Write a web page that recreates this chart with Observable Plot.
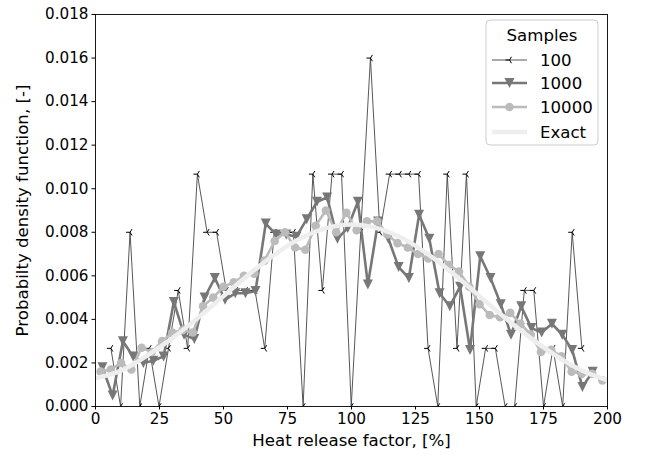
<!DOCTYPE html>
<html><head><meta charset="utf-8">
<script src="https://cdn.jsdelivr.net/npm/d3@7"></script>
<script src="https://cdn.jsdelivr.net/npm/@observablehq/plot@0.6"></script>
<style>body{margin:0;background:#fff;} #chart svg{font-family:"DejaVu Sans",sans-serif;}</style>
</head><body><div id="chart"></div>
<script>
const seriesNames = ["100", "1000", "10000", "Exact"];
const legendTitle = "Samples";
const xLabel = "Heat release factor, [%]";
const yLabel = "Probabilty density function, [-]";
const xTicks = [0, 25, 50, 75, 100, 125, 150, 175, 200];
const yTicks = [0, 0.002, 0.004, 0.006, 0.008, 0.010, 0.012, 0.014, 0.016, 0.018];

// 100 samples
const x100 = [6.0, 9.8, 13.5, 17.3, 21.0, 24.8, 28.5, 32.3, 36.0, 39.8,
  43.6, 47.3, 51.1, 54.8, 58.6, 62.3, 66.1, 69.8, 73.6, 77.3,
  81.1, 84.9, 88.6, 92.4, 96.1, 99.9, 103.6, 107.4, 111.1, 114.9,
  118.7, 122.4, 126.2, 129.9, 133.7, 137.4, 141.2, 144.9, 148.7, 152.4,
  156.2, 160.0, 163.7, 167.5, 171.2, 175.0, 178.7, 182.5, 186.2, 190.0];
const y100 = [0.00267, 0, 0.008, 0, 0.00267, 0, 0.00267, 0.00533, 0.00267, 0.01067,
  0.008, 0.008, 0.00533, 0.00533, 0.00533, 0.00533, 0.00267, 0.008, 0.008, 0.008,
  0, 0.01067, 0.00533, 0.01067, 0.01067, 0, 0.008, 0.016, 0.008, 0.01067,
  0.01067, 0.01067, 0.01067, 0.00267, 0, 0.01067, 0.00267, 0.01067, 0, 0.00267,
  0.00267, 0, 0, 0.00533, 0.00533, 0, 0.00267, 0, 0.008, 0.00267];

// 1000 samples
const x1000 = [2.7, 6.7, 10.7, 14.7, 18.7, 22.6, 26.6, 30.6, 34.6, 38.6,
  42.6, 46.6, 50.6, 54.6, 58.6, 62.5, 66.5, 70.5, 74.5, 78.5,
  82.5, 86.5, 90.5, 94.5, 98.5, 102.5, 106.4, 110.4, 114.4, 118.4,
  122.4, 126.4, 130.4, 134.4, 138.4, 142.4, 146.3, 150.3, 154.3, 158.3,
  162.3, 166.3, 170.3, 174.3, 178.3, 182.3, 186.2, 190.2, 194.2];
const y1000 = [0.0018, 0.0005, 0.0030, 0.0023, 0.0020, 0.0021, 0.0023, 0.0048, 0.0033, 0.0031,
  0.0050, 0.0059, 0.0049, 0.0052, 0.0052, 0.0053, 0.0084, 0.0079, 0.0079, 0.0078,
  0.0086, 0.0094, 0.0096, 0.0077, 0.0082, 0.0094, 0.0056, 0.0085, 0.0077, 0.0064,
  0.0059, 0.0088, 0.0077, 0.0052, 0.0046, 0.0055, 0.0026, 0.0069, 0.0059, 0.0047,
  0.0033, 0.0046, 0.0036, 0.0034, 0.0038, 0.0033, 0.0026, 0.0009, 0.0016];

// 10000 samples
const x10000 = [2, 6, 10, 14, 18, 22, 26, 30, 34, 38,
  42, 46, 50, 54, 58, 62, 66, 70, 74, 78,
  82, 86, 90, 94, 98, 102, 106, 110, 114, 118,
  122, 126, 130, 134, 138, 142, 146, 150, 154, 158,
  162, 166, 170, 174, 178, 182, 186, 190, 194, 198];
const y10000 = [0.0016, 0.0017, 0.0020, 0.0017, 0.0027, 0.0025, 0.0030, 0.0034, 0.0035, 0.0034,
  0.0046, 0.0050, 0.0055, 0.0057, 0.0060, 0.0061, 0.0067, 0.0076, 0.0080, 0.0073,
  0.0072, 0.0083, 0.0090, 0.0080, 0.0089, 0.0081, 0.0085, 0.0085, 0.0079, 0.0075,
  0.0073, 0.0070, 0.0068, 0.0070, 0.0065, 0.0062, 0.0055, 0.0047, 0.0042, 0.0041,
  0.0043, 0.0038, 0.0033, 0.0025, 0.0026, 0.0023, 0.0016, 0.0015, 0.0015, 0.0012];

// Exact curve
const xExact = [0, 10, 20, 30, 40, 50, 60, 70, 80, 90, 100, 110, 120, 130, 140, 150, 160, 170, 180, 190, 200];
const yExact = [0.0013, 0.00165, 0.00232, 0.00314, 0.00407, 0.00507, 0.00607, 0.00698, 0.00772, 0.00819,
  0.00836, 0.00819, 0.00772, 0.00698, 0.00607, 0.00507, 0.00407, 0.00314, 0.00232, 0.00165, 0.0012];

const colors = {"100": "#444444", "1000": "#777777", "10000": "#bbbbbb", "Exact": "#eeeeee"};

const toRows = (xs, ys) => xs.map((x, i) => ({x, y: ys[i]}));
const d100 = toRows(x100, y100);
const d1000 = toRows(x1000, y1000);
const d10000 = toRows(x10000, y10000);
const dExact = toRows(xExact, yExact);

const triLeft = {draw(ctx, size) {
  const r = Math.sqrt(size / Math.PI);
  ctx.moveTo(0, 0); ctx.lineTo(-r, 0);
  ctx.moveTo(0, 0); ctx.lineTo(0.5 * r, -0.8 * r);
  ctx.moveTo(0, 0); ctx.lineTo(0.5 * r, 0.8 * r);
}};
const triDown = {draw(ctx, size) {
  const r = Math.sqrt(size / Math.PI);
  ctx.moveTo(-r, -r); ctx.lineTo(r, -r); ctx.lineTo(0, r); ctx.closePath();
}};

const fsTick = 15.2, fsLabel = 16.6;

const plot = Plot.plot({
  width: 654, height: 458,
  marginLeft: 95, marginRight: 47, marginTop: 14, marginBottom: 52,
  style: {fontFamily: "DejaVu Sans, sans-serif", fontSize: fsTick + "px", background: "#fff", color: "#000"},
  x: {domain: [0, 200]},
  y: {domain: [0, 0.018]},
  marks: [
    Plot.line(d100, {x: "x", y: "y", stroke: colors["100"], strokeWidth: 0.9, clip: true}),
    Plot.dot(d100, {x: "x", y: "y", symbol: triLeft, r: 4, stroke: "#000", fill: "none", strokeWidth: 1, clip: true}),
    Plot.line(d1000, {x: "x", y: "y", stroke: colors["1000"], strokeWidth: 2.6, clip: true}),
    Plot.dot(d1000, {x: "x", y: "y", symbol: triDown, r: 5, fill: colors["1000"], stroke: "none", clip: true}),
    Plot.line(d10000, {x: "x", y: "y", stroke: colors["10000"], strokeWidth: 2.6, clip: true}),
    Plot.dot(d10000, {x: "x", y: "y", r: 4.3, fill: colors["10000"], stroke: "none", clip: true}),
    Plot.line(dExact, {x: "x", y: "y", stroke: colors["Exact"], strokeWidth: 4.5, curve: "natural", clip: true}),
    Plot.frame({stroke: "#000", strokeWidth: 0.9}),
    Plot.axisX({ticks: xTicks, tickSize: 3.5, tickPadding: 3.5, fontSize: fsTick, label: null, tickFormat: d => String(d)}),
    Plot.axisY({ticks: yTicks, tickSize: 3.5, tickPadding: 3.5, fontSize: fsTick, label: null, tickFormat: d => d.toFixed(3)}),
    Plot.text([xLabel], {text: d => d, frameAnchor: "bottom", textAnchor: "middle", lineAnchor: "middle", dy: 34, fontSize: fsLabel, fill: "#000"}),
    Plot.text([yLabel], {text: d => d, frameAnchor: "left", textAnchor: "middle", lineAnchor: "middle", dx: -73, rotate: -90, fontSize: fsLabel, fill: "#000"})
  ]
});
document.getElementById("chart").appendChild(plot);

// legend
const svg = d3.select(plot);
const lg = svg.append("g").attr("font-family", "DejaVu Sans, sans-serif").attr("font-size", fsLabel).attr("fill", "#000");
const bx = 486, by = 20, bw = 112, bh = 125;
lg.append("rect").attr("x", bx).attr("y", by).attr("width", bw).attr("height", bh)
  .attr("rx", 4).attr("fill", "#fff").attr("fill-opacity", 0.8).attr("stroke", "#cccccc").attr("stroke-width", 1);
lg.append("text").attr("x", bx + bw / 2).attr("y", 35).attr("dy", "0.35em").attr("text-anchor", "middle").text(legendTitle);
const rowY = [60, 83, 107, 132];
const h0 = 492, h1 = 527, hm = (h0 + h1) / 2;
const symPath = (type, r) => { const p = d3.path(); type.draw(p, r * r * Math.PI); return p.toString(); };
seriesNames.forEach((name, i) => {
  const y = rowY[i];
  const sw = name === "100" ? 0.9 : name === "Exact" ? 4.5 : 2.6;
  lg.append("line").attr("x1", h0).attr("x2", h1).attr("y1", y).attr("y2", y)
    .attr("stroke", colors[name]).attr("stroke-width", sw);
  if (name === "100") {
    lg.append("path").attr("d", symPath(triLeft, 4)).attr("transform", `translate(${hm},${y})`)
      .attr("stroke", "#000").attr("fill", "none");
  } else if (name === "1000") {
    lg.append("path").attr("d", symPath(triDown, 5)).attr("transform", `translate(${hm},${y})`)
      .attr("fill", colors[name]);
  } else if (name === "10000") {
    lg.append("circle").attr("cx", hm).attr("cy", y).attr("r", 4.3).attr("fill", colors[name]);
  }
  lg.append("text").attr("x", 540).attr("y", y).attr("dy", "0.35em").attr("text-anchor", "start").text(name);
});
</script></body></html>
